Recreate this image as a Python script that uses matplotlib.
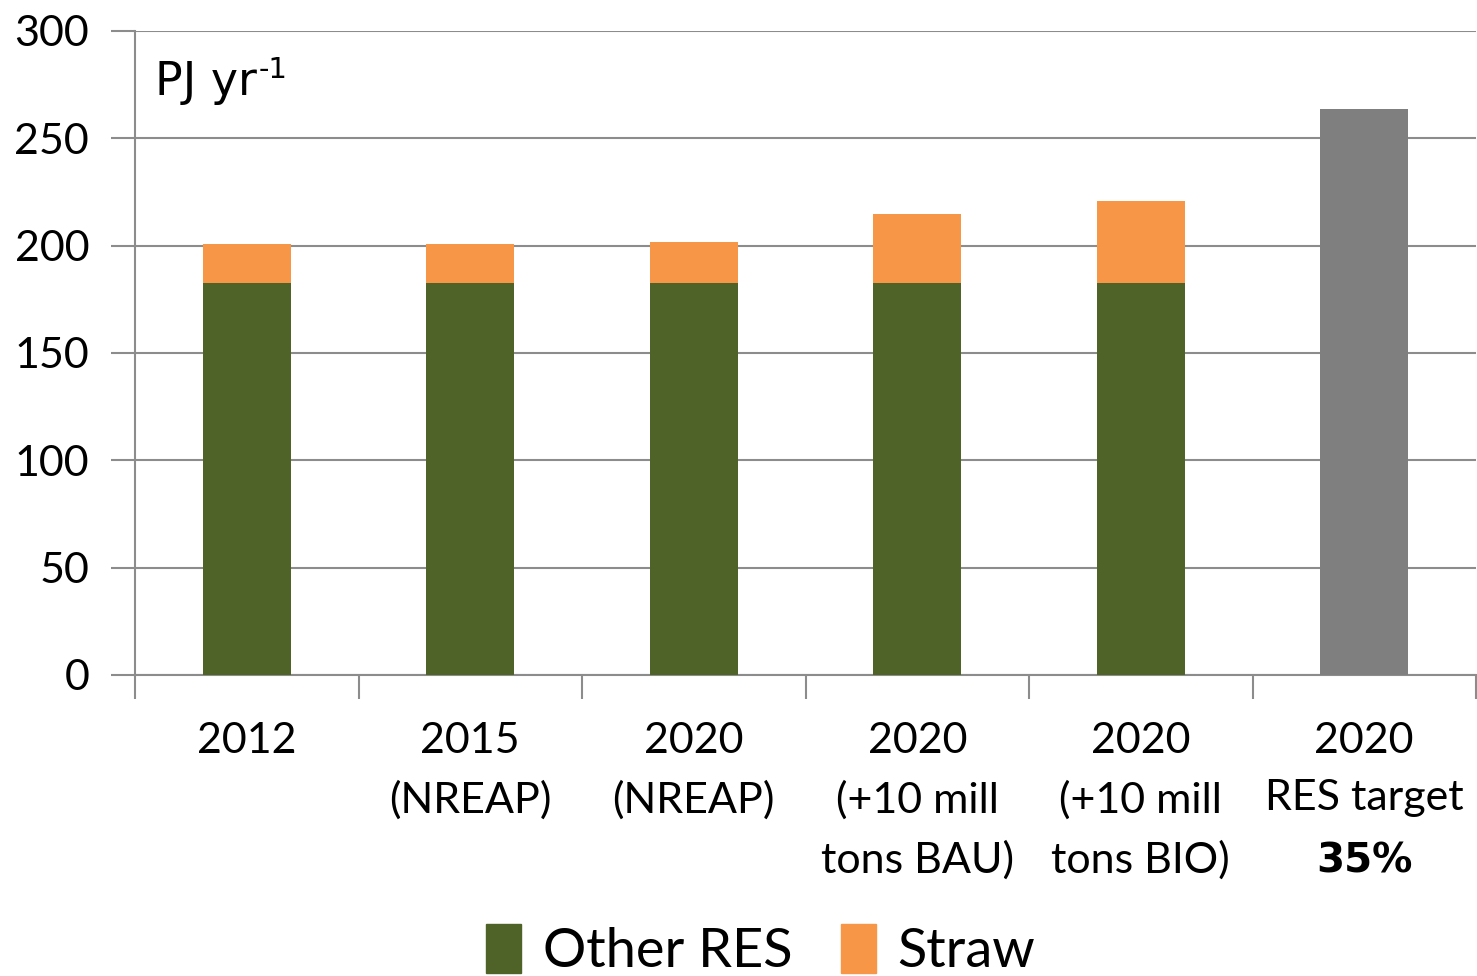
import matplotlib
matplotlib.use('Agg')
import matplotlib.pyplot as plt
from matplotlib.patches import Patch
import numpy as np

categories = ['2012', '2015\n(NREAP)', '2020\n(NREAP)', '2020\n(+10 mill\ntons BAU)',
              '2020\n(+10 mill\ntons BIO)', '2020\nRES target']
other_res = [182.5, 182.5, 182.5, 182.5, 182.5, 0]
straw = [18.2, 18.2, 19.2, 32.2, 38.3, 0]
res_target = [0, 0, 0, 0, 0, 263.5]

green = '#4F6228'
orange = '#F79646'
grey = '#7F7F7F'
tick_font = 'Lato'

fig = plt.figure(figsize=(14.77, 9.76), dpi=100)
ax = fig.add_axes([135 / 1477, 1 - 675 / 976, (1476 - 135) / 1477, (675 - 31) / 976])

x = np.arange(len(categories))
w = 0.395
ax.bar(x, other_res, w, color=green, zorder=3)
ax.bar(x, straw, w, bottom=other_res, color=orange, zorder=3)
ax.bar(x, res_target, w, color=grey, zorder=3)

ax.set_xlim(-0.5, len(categories) - 0.5)
ax.set_ylim(0, 300)
ax.set_yticks(np.arange(0, 301, 50))
ax.yaxis.grid(True, color='#8c8c8c', linewidth=1.5, zorder=0)
ax.tick_params(axis='y', length=17, width=1.5, color='#8c8c8c', pad=16, labelsize=31)
for lab in ax.get_yticklabels():
    lab.set_fontfamily(tick_font)

# category boundaries as ticks, labels at centers
ax.set_xticks(np.arange(-0.5, len(categories), 1.0))
ax.set_xticklabels([])
ax.tick_params(axis='x', which='major', length=17, width=1.5, color='#8c8c8c')
ax.set_xticks(x, minor=True)
ax.set_xticklabels(categories, minor=True, fontsize=31, fontfamily=tick_font,
                   linespacing=1.62)
ax.tick_params(axis='x', which='minor', length=0, pad=34)

for side in ['top', 'right']:
    ax.spines[side].set_visible(False)
for side in ['left', 'bottom']:
    ax.spines[side].set_color('#8c8c8c')
    ax.spines[side].set_linewidth(1.5)

ax.text(5, -0.29, '35%', transform=ax.get_xaxis_transform(), ha='center', va='center',
        fontsize=29, fontweight='bold', family='DejaVu Sans')

unit = ax.text(0.015, 0.90, 'PJ yr', transform=ax.transAxes, ha='left', va='baseline',
               fontsize=33, family='DejaVu Sans')
ax.annotate('-1', xy=(1, 1), xycoords=unit, xytext=(1, 3), textcoords='offset points',
            ha='left', va='top', fontsize=21, family='DejaVu Sans')

handles = [Patch(color=green, label='Other RES'), Patch(color=orange, label='Straw')]
fig.legend(handles=handles, loc='lower center', bbox_to_anchor=(0.515, -0.05), ncol=2,
           frameon=False, prop={'family': tick_font, 'size': 39},
           handlelength=0.65, handleheight=1.0, handletextpad=0.4, columnspacing=0.9)

plt.savefig('out.png', dpi=100)
